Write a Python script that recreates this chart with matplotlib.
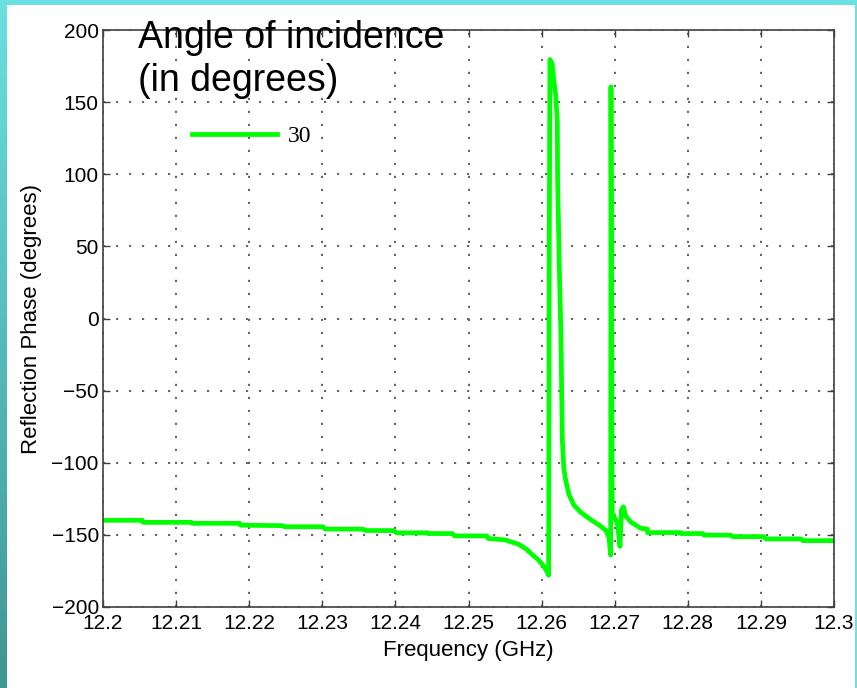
import numpy as np
import matplotlib
matplotlib.use("Agg")
import matplotlib.pyplot as plt
from matplotlib.colors import LinearSegmentedColormap

plt.rcParams['font.family'] = ['Liberation Sans', 'DejaVu Sans']

# data (frequency in GHz, phase in degrees)
freq = [12.2000, 12.2054, 12.2055, 12.2121, 12.2122, 12.2187, 12.2188, 12.2246,
        12.2249, 12.2301, 12.2304, 12.2356, 12.2359, 12.2397, 12.2402, 12.2444,
        12.2445, 12.2478, 12.2481, 12.2525, 12.2527, 12.2550, 12.25685, 12.25795,
        12.2589, 12.25959, 12.26027, 12.26068, 12.26096, 12.26105, 12.26114,
        12.2613, 12.26146, 12.26168, 12.26192, 12.26215, 12.26219, 12.26242,
        12.26264, 12.26284, 12.26305, 12.26329, 12.26374, 12.26442, 12.26534,
        12.26671, 12.26781, 12.26877, 12.26922, 12.26945, 12.26949, 12.26966,
        12.2699, 12.27037, 12.27073, 12.27092, 12.27119, 12.27151, 12.27219,
        12.27356, 12.27448, 12.2745, 12.27904, 12.27905, 12.28205, 12.28219,
        12.28589, 12.28616, 12.29041, 12.29068, 12.29548, 12.29575, 12.3000]
phase = [-139.9, -139.9, -141.3, -141.3, -142.0, -142.0, -143.3, -143.6,
         -144.4, -144.4, -146.0, -146.0, -147.0, -147.0, -148.6, -148.6,
         -149.1, -149.1, -150.7, -150.7, -152.5, -153.5, -156.5, -160.0,
         -164.5, -167.5, -171.5, -175.0, -178.0, 50.0, 179.5,
         178.0, 176.0, 164.6, 155.0, 137.0, 96.0, 36.6,
         -10.5, -84.7, -104.3, -112.0, -122.0, -129.4, -134.3,
         -139.4, -143.0, -146.8, -151.6, -164.0, 160.6, -135.0,
         -137.4, -142.0, -158.0, -132.7, -130.5, -137.0, -141.0,
         -145.4, -146.0, -148.4, -148.4, -149.1, -149.1, -150.2,
         -150.2, -151.2, -151.2, -152.8, -152.8, -154.0, -154.0]

xticks = [12.2, 12.21, 12.22, 12.23, 12.24, 12.25, 12.26, 12.27, 12.28, 12.29, 12.3]
xticklabels = ['12.2', '12.21', '12.22', '12.23', '12.24', '12.25', '12.26',
               '12.27', '12.28', '12.29', '12.3']
yticks = [-200, -150, -100, -50, 0, 50, 100, 150, 200]

fig = plt.figure(figsize=(8.57, 6.88), dpi=100)
fig.patch.set_facecolor('white')

# slide background strips
top = fig.add_axes([0, 1 - 5 / 688, 1, 5 / 688])
top.set_axis_off()
top.add_patch(plt.Rectangle((0, 0), 1, 1, color='#6ae0e0', transform=top.transAxes))
right = fig.add_axes([1 - 2 / 857, 0, 2 / 857, 1])
right.add_patch(plt.Rectangle((0, 0), 1, 1, color='#6ae0e0', transform=right.transAxes))
right.set_axis_off()
left = fig.add_axes([0, 0, 7 / 857, 1])
cmap = LinearSegmentedColormap.from_list('slide', ['#6ae0e0', '#3f9694'])
left.imshow(np.linspace(0, 1, 200).reshape(-1, 1), aspect='auto', cmap=cmap)
left.set_axis_off()

ax = fig.add_axes([103 / 857, 1 - 607 / 688, 731 / 857, 577 / 688])
ax.plot(freq, phase, color='#00ff00', linewidth=3.4, label='30')

ax.set_xlim(12.2, 12.3)
ax.set_ylim(-200, 200)
ax.set_xticks(xticks)
ax.set_xticklabels(xticklabels)
ax.set_yticks(yticks)
ax.tick_params(direction='in', length=5, width=1, color='#404040',
               top=True, right=True, labelsize=15, pad=3)
ax.tick_params(axis='x', pad=5)
for s in ax.spines.values():
    s.set_color('#404040')
    s.set_linewidth(1.2)
ax.grid(True, color='#555555', linestyle=(0, (1.2, 6)), linewidth=1.3)

ax.set_xlabel('Frequency (GHz)', fontsize=16)
ax.set_ylabel('Reflection Phase (degrees)', fontsize=16)
ax.xaxis.set_label_coords(0.5, -0.058)
ax.yaxis.set_label_coords(-0.083, 0.5)

leg = ax.legend(loc='center left', bbox_to_anchor=(0.122, 0.816), frameon=False,
                borderpad=0, borderaxespad=0, handlelength=3.6, handletextpad=0.45,
                prop={'family': 'Liberation Serif', 'size': 17})

fig.text(138 / 857, 1 - 20 / 688, 'Angle of incidence\n(in degrees)', fontsize=27,
         ha='left', va='top', linespacing=1.25, color='black')

fig.savefig('out.png', dpi=100)
